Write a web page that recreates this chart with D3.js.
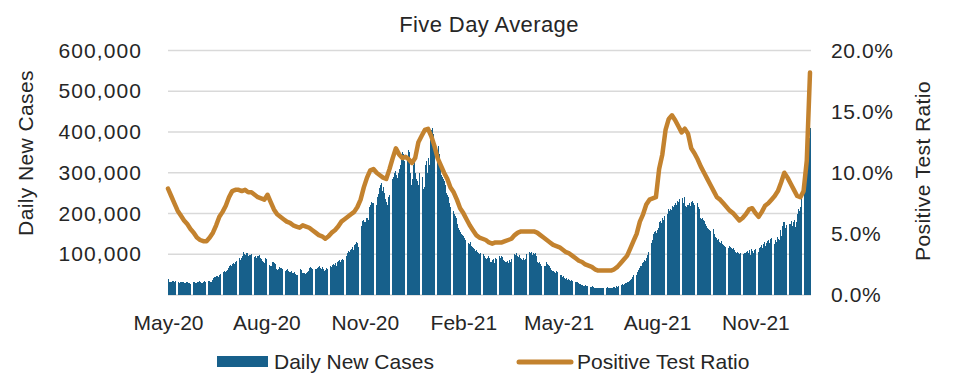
<!DOCTYPE html>
<html><head><meta charset="utf-8">
<script src="https://cdn.jsdelivr.net/npm/d3@7"></script>
<style>
html,body{margin:0;padding:0;background:#fff;}
text{font-family:"Liberation Sans",Arial,sans-serif;fill:#262626;}
</style></head>
<body><svg id="chart" width="960" height="390"></svg>
<script>
// ---- DATA ----
const title = "Five Day Average";
const seriesNames = ["Daily New Cases", "Positive Test Ratio"];
const firstDate = "2020-05-01";           // first daily bar
// Daily new cases (five day average), thousands, one value per day from firstDate
const dailyCasesK = [
 40,33,33,32,34,35,33, 34,33,31,30,32,33,32, 31,30,30,33,32,30,29, 28,30,33,31,30,29,31,
 33,34,32,29,30,33,34, 31,30,34,35,33,32,38, 42,44,45,46,47,45,48, 52,55,57,58,56,60,62,
 66,70,74,72,76,78,75, 80,84,88,90,86,92,95, 105,100,98,102,104,96,99, 97,100,98,94,96,92,95,
 95,97,92,88,84,80,78, 90,88,86,74,72,70,82, 80,78,76,64,62,63,68, 67,66,64,60,58,62,65,
 60,57,56,58,55,54,57, 52,50,49,60,64,62,55, 54,53,52,55,56,60,66, 68,66,65,67,63,64,66,
 68,70,66,65,68,64,60, 62,66,64,70,72,68,74, 76,74,78,72,80,84,86, 82,85,88,86,90,96,104,
 108,106,110,112,118,110,122, 125,130,128,118,135,170,182, 185,180,178,190,188,184,215,
 222,228,226,225,232,220,240, 248,262,270,275,255,265,250, 235,228,220,240,245,230,285,
 290,300,305,295,288,300,310, 320,335,350,345,330,315,340, 355,350,300,270,285,320,330,
 300,285,280,270,300,310,290, 260,265,320,330,300,335,320, 380,405,410,395,360,355,340,
 365,345,330,295,290,285,280, 270,250,245,240,225,215,210, 205,200,195,190,175,165,160,
 155,150,148,145,140,135,132, 128,125,130,120,118,115,112, 108,110,106,104,100,102,98,
 100,96,92,88,92,95,90, 82,80,85,88,78,90,88, 92,95,90,96,94,86,84, 82,80,84,78,85,82,88,
 95,100,98,102,96,94,99, 92,88,86,90,85,88,100, 104,106,102,105,98,104,100, 102,96,80,78,82,75,72,
 76,70,72,80,76,74,70, 66,62,60,58,57,55,60, 56,54,50,48,44,46,42, 40,42,38,40,36,34,37,
 35,34,32,33,31,30,28, 26,25,24,23,22,24,21, 22,20,20,19,21,19,18, 18,17,18,17,16,18,17,
 17,16,18,17,19,16,17, 18,17,16,20,19,18,21, 20,22,21,24,26,25,28, 29,30,32,31,34,36,40,
 44,48,52,50,56,62,66, 70,72,78,82,86,84,92, 98,105,115,128,135,150,155, 158,152,160,165,178,182,176,
 190,185,195,200,198,210,205, 212,208,218,215,220,225,222, 230,228,235,232,238,225,240,
 218,215,222,220,225,218,228, 230,226,222,232,225,215,210, 190,186,188,184,182,175,170,
 165,162,160,158,155,162,150, 142,140,135,138,130,128,132, 125,122,120,118,122,115,120,
 118,116,112,115,110,106,104, 105,102,100,104,98,100,103, 102,106,108,104,110,98,112,
 108,104,110,112,100,106,115, 118,122,116,125,130,120,128, 132,135,128,138,140,130,125,
 136,130,142,138,135,160,145, 170,178,180,165,172,168,175, 175,182,170,178,185,168,180,
 200,210,205,215,235,240,255, 280,300,320,350,385,410
];
// Positive test ratio (%), one reading every 3 days from firstDate
const ratioStepDays = 3;
const positiveRatio = [
 8.7,8.1,7.5,6.9,6.5,6.1,5.8,5.4,5.1,4.7, 4.5,4.4,4.4,4.7,5.1,5.7,6.4,6.8,7.3,8.0,
 8.5,8.6,8.6,8.5,8.6,8.4,8.4,8.2,8.0,7.9, 7.8,8.2,7.6,7.0,6.6,6.4,6.2,6.0,5.9,5.7,
 5.6,5.5,5.7,5.6,5.5,5.3,5.1,4.9,4.8,4.6, 4.8,5.1,5.3,5.6,6.0,6.2,6.4,6.6,6.8,7.2,
 7.8,8.8,9.6,10.2,10.3,10.0,9.8,9.6,9.5,10.3, 11.2,12.0,11.5,11.2,11.3,11.1,10.8,11.2,12.5,13.0,
 13.5,13.6,13.0,12.2,11.2,10.6,10.0,9.5,8.8,8.4, 7.8,7.1,6.7,6.2,5.7,5.3,4.9,4.7,4.6,4.5,
 4.3,4.2,4.3,4.3,4.3,4.4,4.5,4.6,4.9,5.1, 5.2,5.2,5.2,5.2,5.2,5.1,4.9,4.7,4.5,4.3,
 4.1,4.0,3.9,3.7,3.5,3.4,3.2,3.0,2.8,2.7, 2.5,2.4,2.3,2.1,2.0,2.0,2.0,2.0,2.0,2.1,
 2.3,2.6,2.9,3.2,3.8,4.4,5.0,6.0,6.6,7.4, 7.8,7.9,8.0,10.3,11.5,13.5,14.4,14.7,14.3,13.8,
 13.3,13.6,13.2,12.0,11.6,11.1,10.5,10.0,9.5,9.0, 8.5,8.0,7.8,7.5,7.2,6.9,6.7,6.4,6.1,6.3,
 6.6,7.0,7.1,6.7,6.4,6.8,7.3,7.5,7.8,8.1, 8.5,9.2,10.0,9.6,9.1,8.6,8.1,8.0,8.5,11.0,
 18.2
];
const tickDates = ["2020-05-01","2020-08-01","2020-11-01","2021-02-01","2021-05-01","2021-08-01","2021-11-01"];
const tickLabels = ["May-20","Aug-20","Nov-20","Feb-21","May-21","Aug-21","Nov-21"];
const leftTicks = [100000,200000,300000,400000,500000,600000];
const rightTicks = [0,5,10,15,20];

// ---- CHART ----
const barColor = "#17608b", lineColor = "#c3822e", gridColor = "#d9d9d9";
const parse = d3.timeParse("%Y-%m-%d");
const start = parse(firstDate);
const bars = dailyCasesK.map((v,i)=>({date:d3.timeDay.offset(start,i), value:v*1000}));
const ratio = positiveRatio.map((v,i)=>({date:d3.timeDay.offset(start,i*ratioStepDays), value:v}));

const svg = d3.select("#chart");
const L = 168, R = 810, T = 50.5, B = 295;
const x = d3.scaleTime().domain([start, bars[bars.length-1].date]).range([L, R]);
const yL = d3.scaleLinear().domain([0, 600000]).range([B, T]);
const yR = d3.scaleLinear().domain([0, 20]).range([B, T]);
const step = (R - L) / (bars.length - 1);

// gridlines
svg.append("g").selectAll("line").data([0].concat(leftTicks)).join("line")
  .attr("x1", L).attr("x2", R + 1).attr("y1", d=>yL(d)).attr("y2", d=>yL(d))
  .attr("stroke", gridColor).attr("stroke-width", 1.5);

// bars
svg.append("g").selectAll("rect").data(bars).join("rect")
  .attr("x", d=>x(d.date))
  .attr("width", step * 0.87)
  .attr("y", d=>yL(d.value))
  .attr("height", d=>B - yL(d.value))
  .attr("fill", barColor)
  .attr("shape-rendering", "crispEdges");

// line
svg.append("path").datum(ratio)
  .attr("d", d3.line().x(d=>x(d.date)).y(d=>yR(d.value)))
  .attr("fill", "none").attr("stroke", lineColor).attr("stroke-width", 4.5)
  .attr("stroke-linejoin", "round").attr("stroke-linecap", "round");

// axes
const fmt = d3.format(",");
const axL = svg.append("g").attr("transform", `translate(${L},0)`)
  .call(d3.axisLeft(yL).tickValues(leftTicks).tickFormat(fmt).tickSize(0).tickPadding(26));
const axR = svg.append("g").attr("transform", `translate(${R},0)`)
  .call(d3.axisRight(yR).tickValues(rightTicks).tickFormat(d=>d.toFixed(1)+"%").tickSize(0).tickPadding(21));
const axB = svg.append("g").attr("transform", `translate(0,${B})`)
  .call(d3.axisBottom(x).tickValues(tickDates.map(parse)).tickFormat((d,i)=>tickLabels[i]).tickSize(0).tickPadding(20));
[axL, axR, axB].forEach(a=>{
  a.select(".domain").remove();
  a.selectAll("text").attr("font-size", 21).attr("fill", "#262626")
    .style("font-family", '"Liberation Sans", Arial, sans-serif');
});
axL.selectAll("text").attr("letter-spacing", 1.1);
axR.selectAll("text").attr("letter-spacing", 0.6);
axB.selectAll("text").attr("dy", "0.71em");

// titles
svg.append("text").attr("x", 489).attr("y", 32).attr("text-anchor", "middle")
  .attr("font-size", 22).attr("letter-spacing", 0.4).text(title);
svg.append("text").attr("transform", "translate(33,153) rotate(-90)").attr("text-anchor", "middle")
  .attr("font-size", 21).attr("letter-spacing", 0.4).text(seriesNames[0]);
svg.append("text").attr("transform", "translate(930,171) rotate(-90)").attr("text-anchor", "middle")
  .attr("font-size", 21).attr("letter-spacing", 0.4).text(seriesNames[1]);

// legend
const lg = svg.append("g");
lg.append("rect").attr("x", 217).attr("y", 356).attr("width", 51).attr("height", 11).attr("fill", barColor);
lg.append("text").attr("x", 274).attr("y", 369).attr("font-size", 21).text(seriesNames[0]);
lg.append("line").attr("x1", 519).attr("x2", 571).attr("y1", 362).attr("y2", 362)
  .attr("stroke", lineColor).attr("stroke-width", 5).attr("stroke-linecap", "round");
lg.append("text").attr("x", 577).attr("y", 369).attr("font-size", 21).text(seriesNames[1]);
</script></body></html>
